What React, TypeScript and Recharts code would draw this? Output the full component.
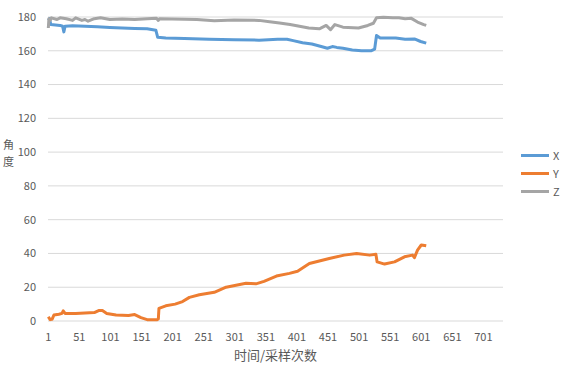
import { LineChart, Line, XAxis, YAxis, CartesianGrid } from 'recharts'

// [采样次数, 角度]
const SERIES_X: [number, number][] = [
  [1, 178], [3, 179], [5, 175.5], [20, 175], [24, 174.5], [26, 171.2], [28, 174.5], [40, 174.8],
  [60, 174.5], [80, 174.2], [100, 173.8], [120, 173.5], [140, 173.2], [160, 173], [174, 172.2],
  [177, 168], [190, 167.5], [220, 167.2], [260, 166.8], [300, 166.5], [340, 166.3], [370, 166.8],
  [385, 166.8], [395, 166], [410, 164.8], [425, 164], [440, 162.5], [450, 161.5], [458, 162.5],
  [465, 162], [475, 161.5], [490, 160.5], [505, 160], [520, 160], [526, 161], [529, 169],
  [535, 167.5], [560, 167.5], [575, 166.8], [590, 167], [600, 165.5], [609, 164.5],
]
const SERIES_Y: [number, number][] = [
  [1, 2.5], [4, 0.8], [7, 1], [10, 3.5], [18, 4], [23, 4.5], [25, 6], [28, 4.5], [45, 4.5],
  [60, 4.8], [75, 5], [82, 6.2], [88, 6.2], [95, 4.5], [110, 3.5], [130, 3.2], [140, 3.8],
  [150, 2], [160, 0.8], [176, 0.8], [178, 1.2], [179, 7.5], [190, 9], [205, 10], [217, 11.5],
  [228, 14], [244, 15.5], [268, 17], [287, 20], [319, 22.3], [335, 22], [348, 23.5], [368, 26.6],
  [389, 28.2], [402, 29.5], [421, 34], [453, 37], [477, 39], [497, 40], [518, 39], [528, 39.5],
  [530, 35], [542, 33.7], [558, 35], [574, 38], [587, 39], [590, 37.5], [595, 42], [601, 45],
  [609, 44.5],
]
const SERIES_Z: [number, number][] = [
  [1, 173.5], [2, 179], [4, 178], [6, 179.5], [15, 178.5], [20, 179.5], [30, 179], [40, 178],
  [45, 179.5], [55, 178], [60, 178.5], [65, 177.5], [75, 179], [85, 179.5], [100, 178.5],
  [120, 178.8], [140, 178.5], [160, 179], [175, 179.2], [178, 178], [180, 179], [200, 178.8],
  [240, 178.5], [268, 177.8], [300, 178.2], [340, 178], [357, 177.2], [373, 176.5], [390, 175.5],
  [405, 174.5], [420, 173.5], [437, 173], [448, 175], [455, 172.5], [462, 175.5], [475, 174],
  [500, 173.5], [515, 175], [524, 176.3], [529, 179.5], [540, 179.8], [555, 179.5], [565, 179.5],
  [575, 179], [585, 179.2], [595, 177], [605, 175.5], [609, 175],
]
const X_TICKS = [1, 51, 101, 151, 201, 251, 301, 351, 401, 451, 501, 551, 601, 651, 701]
const Y_TICKS = [0, 20, 40, 60, 80, 100, 120, 140, 160, 180]

const SERIES = [
  { name: 'X', color: '#5B9BD5', points: SERIES_X },
  { name: 'Y', color: '#ED7D31', points: SERIES_Y },
  { name: 'Z', color: '#A5A5A5', points: SERIES_Z },
]

const FONT = '"Noto Sans CJK SC", "Noto Sans", sans-serif'
const TEXT = '#595959'

function yTitle() {
  return (
    <g fontFamily={FONT} fontSize={11} fill={TEXT}>
      <text x={3} y={149}>角</text>
      <text x={3} y={166}>度</text>
    </g>
  )
}

export default function App() {
  return (
    <div style={{ position: 'absolute', left: 0, top: 0, width: 565, height: 368, background: '#fff' }}>
      <LineChart width={565} height={368} margin={{ top: 17, right: 62, left: 8, bottom: 0 }}>
        <CartesianGrid vertical={false} stroke="#D9D9D9" />
        <XAxis
          type="number"
          dataKey="i"
          domain={[0.5, 732.5]}
          ticks={X_TICKS}
          interval={0}
          height={47}
          axisLine={false}
          tickLine={false}
          tick={{ fontSize: 11, fill: TEXT, fontFamily: FONT }}
          tickMargin={6}
          label={{ value: '时间/采样次数', position: 'insideBottom', offset: 8, fontSize: 13, fill: TEXT, fontFamily: FONT }}
        />
        <YAxis
          type="number"
          domain={[0, 180]}
          ticks={Y_TICKS}
          interval={0}
          width={40}
          axisLine={false}
          tickLine={false}
          tick={{ fontSize: 11, fill: TEXT, fontFamily: FONT }}
          tickMargin={6}
          label={yTitle}
        />
        {SERIES.map(s => (
          <Line
            key={s.name}
            name={s.name}
            data={s.points.map(([i, v]) => ({ i, v }))}
            dataKey="v"
            type="linear"
            stroke={s.color}
            strokeWidth={3}
            strokeLinejoin="round"
            dot={false}
            activeDot={false}
            isAnimationActive={false}
          />
        ))}
      </LineChart>
      <div style={{ position: 'absolute', left: 521, top: 146, fontFamily: FONT, fontSize: 11, color: TEXT }}>
        {SERIES.map(s => (
          <div key={s.name} style={{ display: 'flex', alignItems: 'center', height: 18 }}>
            <div style={{ width: 28, height: 3, background: s.color, marginRight: 4 }} />
            <span>{s.name}</span>
          </div>
        ))}
      </div>
    </div>
  )
}
